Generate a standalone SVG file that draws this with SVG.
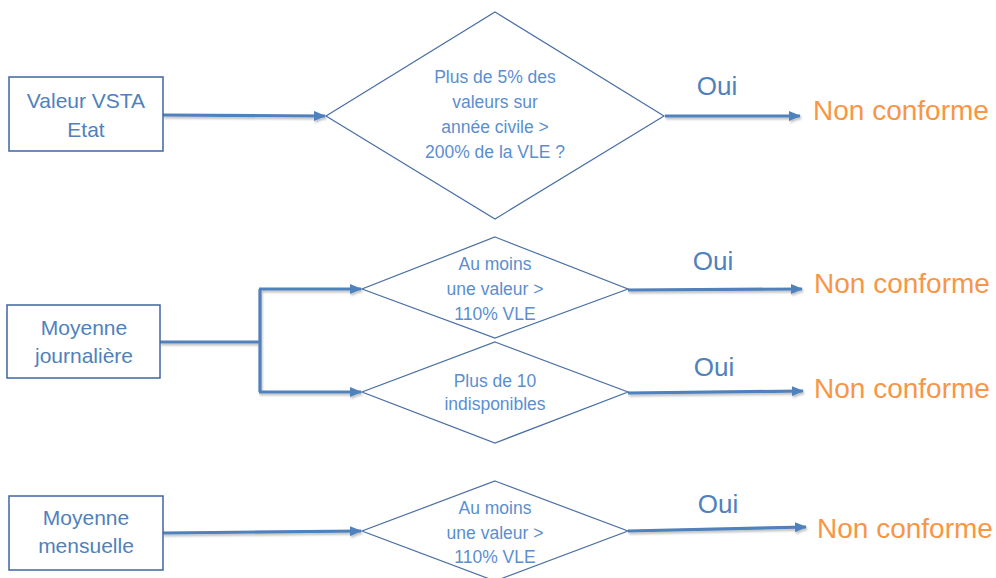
<svg xmlns="http://www.w3.org/2000/svg" width="996" height="578" viewBox="0 0 996 578">
<defs>
<marker id="ah" markerWidth="12" markerHeight="10" refX="11" refY="5" orient="auto" markerUnits="userSpaceOnUse">
<path d="M0,0 L12,5 L0,10 Z" fill="#4f81bd"/>
</marker>
<filter id="sh" x="-10%" y="-50%" width="120%" height="200%">
<feDropShadow dx="1" dy="2" stdDeviation="1.2" flood-color="#000" flood-opacity="0.25"/>
</filter>
<style>
.box{fill:#fff;stroke:#3f64a0;stroke-width:1.5}
.dia{fill:#fff;stroke:#4a6fa5;stroke-width:1.2}
.bt{font-family:"Liberation Sans",Arial,sans-serif;font-size:21px;fill:#4f81bd;text-anchor:middle}
.dt{font-family:"Liberation Sans",Arial,sans-serif;font-size:17.5px;fill:#5b8ed0;text-anchor:middle}
.oui{font-family:"Liberation Sans",Arial,sans-serif;font-size:26px;fill:#4f81bd;text-anchor:middle}
.nc{font-family:"Liberation Sans",Arial,sans-serif;font-size:28px;fill:#f79646}
.cn{fill:none;stroke:#4f81bd;stroke-width:3.2}
</style>
</defs>
<rect width="996" height="578" fill="#fff"/>

<g id="connectors" filter="url(#sh)">
<path class="cn" d="M163,115 L325,116" marker-end="url(#ah)"/>
<path class="cn" d="M160,342 L260,342 M260,289 L260,392"/>
<path class="cn" d="M259,289 L361,289" marker-end="url(#ah)"/>
<path class="cn" d="M259,392 L361,392" marker-end="url(#ah)"/>
<path class="cn" d="M163,533 L361,531" marker-end="url(#ah)"/>
<path class="cn" d="M665,116 L800,116" marker-end="url(#ah)"/>
<path class="cn" d="M628,290 L802,289" marker-end="url(#ah)"/>
<path class="cn" d="M628,393 L803,391" marker-end="url(#ah)"/>
<path class="cn" d="M628,531 L806,527" marker-end="url(#ah)"/>
</g>

<g id="n-valeur">
<rect class="box" x="9" y="77" width="154" height="74"/>
<text class="bt" x="86" y="108">Valeur VSTA</text>
<text class="bt" x="86" y="137">Etat</text>
</g>
<g id="n-journaliere">
<rect class="box" x="7" y="305" width="153" height="73"/>
<text class="bt" x="84" y="335">Moyenne</text>
<text class="bt" x="84" y="363">journalière</text>
</g>
<g id="n-mensuelle">
<rect class="box" x="9" y="496" width="154" height="74"/>
<text class="bt" x="86" y="525">Moyenne</text>
<text class="bt" x="86" y="553">mensuelle</text>
</g>

<g id="d-annee">
<polygon class="dia" points="495,12 664,116 495,219 326,116"/>
<text class="dt" x="495" y="83">Plus de 5% des</text>
<text class="dt" x="495" y="108">valeurs sur</text>
<text class="dt" x="495" y="133">année civile &gt;</text>
<text class="dt" x="495" y="158">200% de la VLE ?</text>
</g>
<g id="d-110j">
<polygon class="dia" points="495,237 628,289 495,338 362,289"/>
<text class="dt" x="495" y="270">Au moins</text>
<text class="dt" x="495" y="295">une valeur &gt;</text>
<text class="dt" x="495" y="320">110% VLE</text>
</g>
<g id="d-indispo">
<polygon class="dia" points="495,342 628,392 495,443 362,392"/>
<text class="dt" x="495" y="387">Plus de 10</text>
<text class="dt" x="495" y="410">indisponibles</text>
</g>
<g id="d-110m">
<polygon class="dia" points="495,481 628,531 495,581 362,531"/>
<text class="dt" x="495" y="514">Au moins</text>
<text class="dt" x="495" y="539">une valeur &gt;</text>
<text class="dt" x="495" y="563">110% VLE</text>
</g>

<g id="labels">
<text class="oui" x="717" y="95">Oui</text>
<text class="oui" x="713" y="270">Oui</text>
<text class="oui" x="714" y="376">Oui</text>
<text class="oui" x="718" y="513">Oui</text>
</g>
<g id="r1"><text class="nc" x="813" y="120">Non conforme</text></g>
<g id="r2"><text class="nc" x="814" y="293">Non conforme</text></g>
<g id="r3"><text class="nc" x="814" y="398">Non conforme</text></g>
<g id="r4"><text class="nc" x="817" y="538">Non conforme</text></g>
</svg>
